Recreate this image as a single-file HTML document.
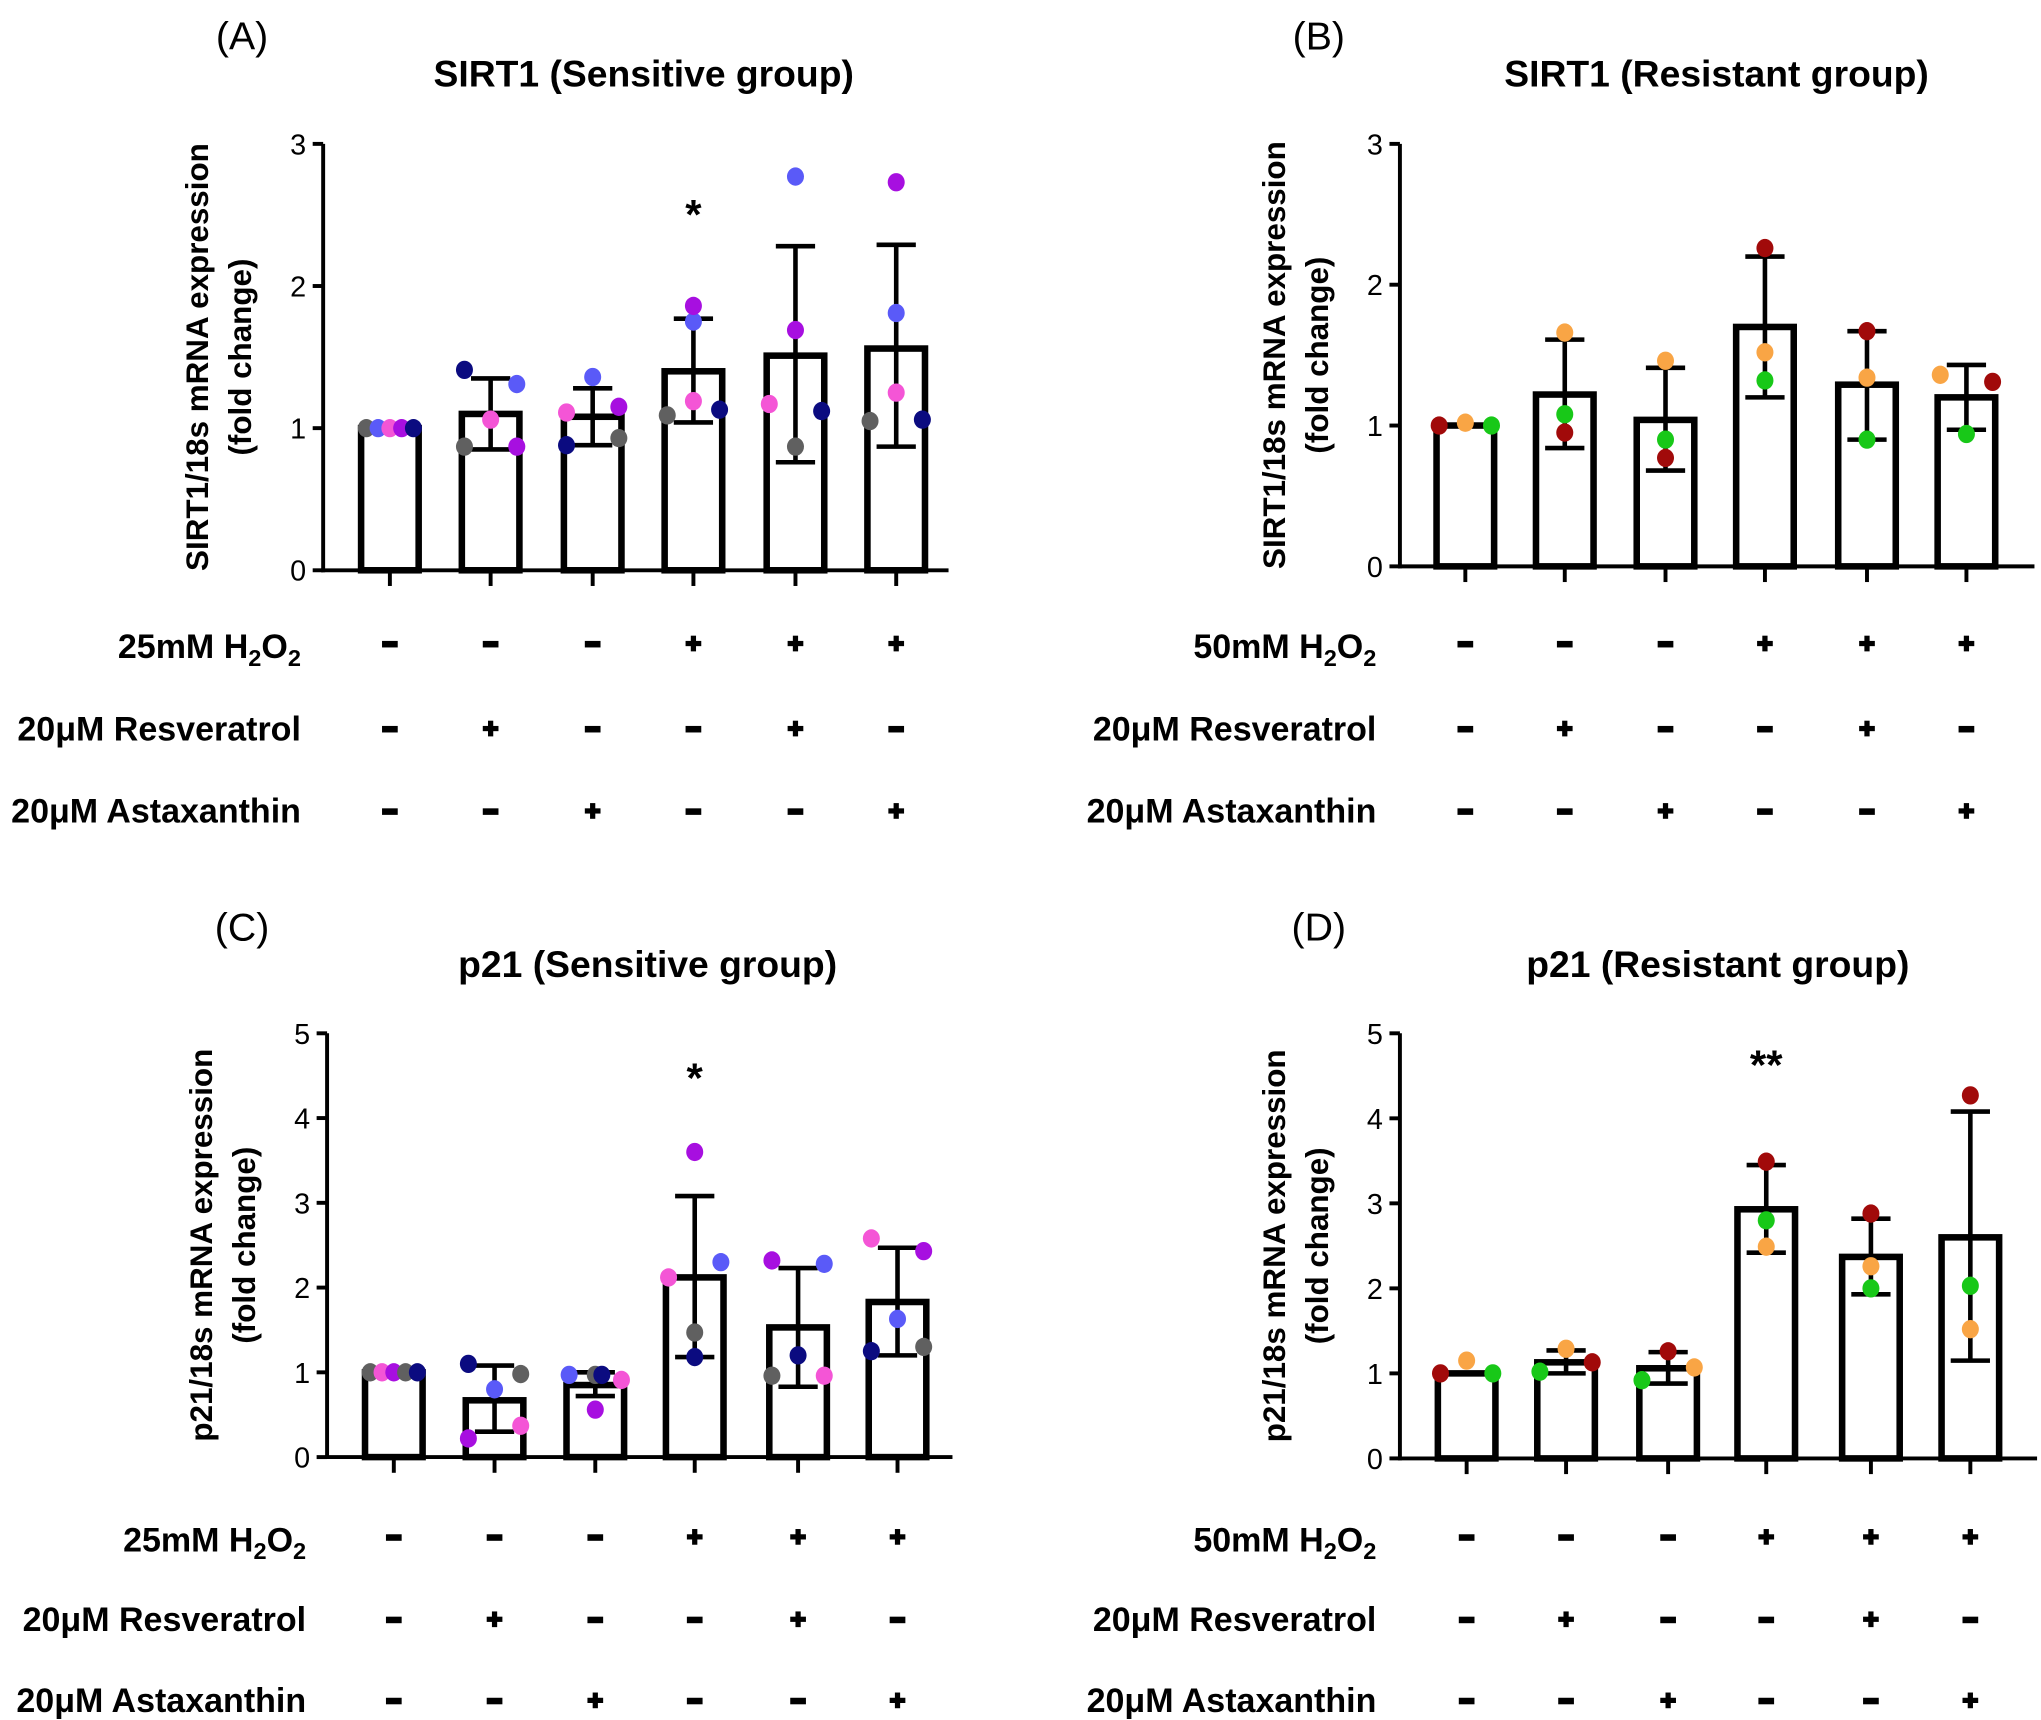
<!DOCTYPE html>
<html><head><meta charset="utf-8"><style>
html,body{margin:0;padding:0;background:#fff;}
svg{display:block;font-family:"Liberation Sans",Arial,sans-serif;}
</style></head><body>
<svg id="fig" width="2041" height="1720" viewBox="0 0 1560 1315" preserveAspectRatio="none" xmlns="http://www.w3.org/2000/svg"></svg>
<script>
// ---- data ----
const categories = ["g1","g2","g3","g4","g5","g6"];
const colS = {gray:"#606060",navy:"#0b0b80",blue:"#5a5af8",pink:"#f455d6",purple:"#a70fe0"};
const colR = {red:"#a10a0a",orange:"#f9a545",green:"#18c818"};
// Panel A
const meanA = [1.0,1.1,1.08,1.4,1.51,1.56];
const errLoA = [1.0,0.85,0.88,1.04,0.76,0.87];
const errHiA = [1.0,1.35,1.28,1.77,2.28,2.29];
const ptsA = [
 [["gray",1.0,-18],["blue",1.0,-9],["pink",1.0,0],["purple",1.0,9],["navy",1.0,18]],
 [["navy",1.41,-20],["gray",0.87,-20],["pink",1.06,0],["blue",1.31,20],["purple",0.87,20]],
 [["pink",1.11,-20],["navy",0.88,-20],["blue",1.36,0],["purple",1.15,20],["gray",0.93,20]],
 [["gray",1.09,-20],["pink",1.19,0],["blue",1.75,0],["purple",1.86,0],["navy",1.13,20]],
 [["pink",1.17,-20],["gray",0.87,0],["purple",1.69,0],["blue",2.77,0],["navy",1.12,20]],
 [["gray",1.05,-20],["pink",1.25,0],["blue",1.81,0],["purple",2.73,0],["navy",1.06,20]]];
// Panel B
const meanB = [1.0,1.22,1.04,1.70,1.29,1.2];
const errLoB = [1.0,0.84,0.68,1.2,0.9,0.97];
const errHiB = [1.0,1.61,1.41,2.2,1.67,1.43];
const ptsB = [
 [["red",1.0,-20],["orange",1.02,0],["green",1.0,20]],
 [["orange",1.66,0],["green",1.08,0],["red",0.95,0]],
 [["orange",1.46,0],["green",0.9,0],["red",0.77,0]],
 [["red",2.26,0],["orange",1.52,0],["green",1.32,0]],
 [["red",1.67,0],["orange",1.34,0],["green",0.9,0]],
 [["orange",1.36,-20],["green",0.94,0],["red",1.31,20]]];
// Panel C
const meanC = [1.0,0.67,0.85,2.12,1.53,1.83];
const errLoC = [1.0,0.3,0.72,1.18,0.83,1.2];
const errHiC = [1.0,1.08,1.0,3.08,2.23,2.47];
const ptsC = [
 [["gray",1.0,-18],["pink",1.0,-9],["purple",1.0,0],["gray",1.0,9],["navy",1.0,18]],
 [["navy",1.1,-20],["purple",0.22,-20],["blue",0.8,0],["pink",0.37,20],["gray",0.98,20]],
 [["blue",0.97,-20],["gray",0.97,0],["navy",0.97,5],["purple",0.56,0],["pink",0.91,20]],
 [["pink",2.12,-20],["purple",3.6,0],["gray",1.47,0],["navy",1.18,0],["blue",2.3,20]],
 [["purple",2.32,-20],["gray",0.96,-20],["navy",1.2,0],["pink",0.96,20],["blue",2.28,20]],
 [["pink",2.58,-20],["navy",1.25,-20],["blue",1.63,0],["purple",2.43,20],["gray",1.3,20]]];
// Panel D
const meanD = [1.0,1.13,1.06,2.93,2.37,2.6];
const errLoD = [1.0,1.0,0.88,2.42,1.93,1.15];
const errHiD = [1.0,1.27,1.25,3.45,2.82,4.08];
const ptsD = [
 [["red",1.0,-20],["orange",1.15,0],["green",1.0,20]],
 [["orange",1.29,0],["green",1.02,-20],["red",1.13,20]],
 [["green",0.92,-20],["red",1.26,0],["orange",1.07,20]],
 [["red",3.49,0],["green",2.8,0],["orange",2.49,0]],
 [["red",2.88,0],["orange",2.26,0],["green",2.0,0]],
 [["red",4.27,0],["green",2.03,0],["orange",1.52,0]]];
const rowH2O2 = ["-","-","-","+","+","+"];
const rowRes = ["-","+","-","-","+","-"];
const rowAst = ["-","-","+","-","-","+"];

const NS="http://www.w3.org/2000/svg";
const svg=document.getElementById('fig');
function mk(tag,attrs,parent){const e=document.createElementNS(NS,tag);for(const k in attrs)e.setAttribute(k,attrs[k]);(parent||svg).appendChild(e);return e;}

function panel(o){
  const g=mk('g',{});
  
  
  const y=v=>o.y0-(o.y0-o.yTop)*v/o.ymax;
  const x=i=>o.bx[i];
  let t=mk('text',{x:o.letterX,y:o.titleY-18,'font-size':30,'text-anchor':'middle'},g);t.textContent=o.letter;
  
  t=mk('text',{x:o.titleX,y:o.titleY+10,'font-size':28.5,'font-weight':'bold','text-anchor':'middle'},g);t.textContent=o.title;
  
  const yl=mk('text',{transform:`translate(${o.ax-62},${(o.y0+o.yTop)/2}) rotate(-90)`,'font-size':24,'font-weight':'bold','text-anchor':'middle'},g);
  
  let s1=mk('tspan',{x:0,y:-26},yl);s1.textContent=o.ylab;
  let s2=mk('tspan',{x:0,y:7},yl);s2.textContent="(fold change)";
  o.mean.forEach((m,i)=>{
    const r=mk('rect',{x:x(i)-22,y:y(m),width:44,height:o.y0-y(m),fill:'#fff',stroke:'#000','stroke-width':5},g);
    
  });
  const ya=mk('line',{x1:o.ax,y1:o.yTop,x2:o.ax,y2:o.y0+1.5,stroke:'#000','stroke-width':3},g);
  
  const xa=mk('line',{x1:o.ax-1.5,y1:o.y0,x2:o.axEnd,y2:o.y0,stroke:'#000','stroke-width':3},g);
  
  for(let v=0;v<=o.ymax;v++){
    mk('line',{x1:o.ax-8,y1:y(v),x2:o.ax,y2:y(v),stroke:'#000','stroke-width':3},g);
    const tl=mk('text',{x:o.ax-13,y:y(v)+8,'font-size':22,'text-anchor':'end'},g);tl.textContent=v;
    
  }
  categories.forEach((c,i)=>mk('line',{x1:x(i),y1:o.y0,x2:x(i),y2:o.y0+12,stroke:'#000','stroke-width':3},g));
  o.mean.forEach((m,i)=>{
    if(o.hi[i]===o.lo[i])return;
    const e=mk('g',{stroke:'#000','stroke-width':3.5},g);
    
    mk('line',{x1:x(i),y1:y(o.lo[i]),x2:x(i),y2:y(o.hi[i])},e);
    mk('line',{x1:x(i)-15,y1:y(o.hi[i]),x2:x(i)+15,y2:y(o.hi[i])},e);
    mk('line',{x1:x(i)-15,y1:y(o.lo[i]),x2:x(i)+15,y2:y(o.lo[i])},e);
  });
  o.pts.forEach((arr,i)=>arr.forEach(p=>{
    const d=mk('ellipse',{cx:x(i)+p[2],cy:y(p[1]),rx:6.5,ry:7,fill:o.cols[p[0]]},g);
    
  }));
  if(o.sig){const st=mk('text',{x:x(3),y:y(o.sigV)+16,'font-size':32,'font-weight':'bold','text-anchor':'middle'},g);st.textContent=o.sig;
    }
  const rows=[[o.h2o2,rowH2O2],["20\u03bcM Resveratrol",rowRes],["20\u03bcM Astaxanthin",rowAst]];
  rows.forEach((r,ri)=>{
    const ry=o.rowY[ri];
    const lab=mk('text',{x:o.labX,y:ry+9,'font-size':26,'font-weight':'bold','text-anchor':'end'},g);
    
    if(ri===0){
      let a=mk('tspan',{},lab);a.textContent=r[0]+"mM H";
      let b=mk('tspan',{'font-size':18,dy:6},lab);b.textContent="2";
      let c2=mk('tspan',{dy:-6},lab);c2.textContent="O";
      let d2=mk('tspan',{'font-size':18,dy:6},lab);d2.textContent="2";
    } else lab.textContent=r[0];
    r[1].forEach((s,i)=>{
      const cy=ry+(ri===0?-2:0);
      if(s==="-"){const m=mk('rect',{x:x(i)-6,y:cy-2,width:12,height:5,fill:'#000'},g);
        }
      else{const pg=mk('g',{fill:'#000'},g);
        mk('rect',{x:x(i)-6,y:cy-2,width:12,height:4},pg);mk('rect',{x:x(i)-2,y:cy-6,width:4,height:12},pg);}
    });
  });
}
panel({name:'panel-a',letter:'(A)',letterX:185,title:'SIRT1 (Sensitive group)',titleX:492,titleY:56,ax:247,axEnd:725,y0:436,yTop:110,ymax:3,
  bx:[298,375,453,530,608,685],mean:meanA,lo:errLoA,hi:errHiA,pts:ptsA,cols:colS,ylab:'SIRT1/18s mRNA expression',sig:'*',sigV:2.55,
  h2o2:'25',labX:230,rowY:[494,557,620]});
panel({name:'panel-b',letter:'(B)',letterX:1008,title:'SIRT1 (Resistant group)',titleX:1312,titleY:56,ax:1070,axEnd:1555,y0:433,yTop:110,ymax:3,
  bx:[1120,1196,1273,1349,1427,1503],mean:meanB,lo:errLoB,hi:errHiB,pts:ptsB,cols:colR,ylab:'SIRT1/18s mRNA expression',
  h2o2:'50',labX:1052,rowY:[494,557,620]});
panel({name:'panel-c',letter:'(C)',letterX:185,title:'p21 (Sensitive group)',titleX:495,titleY:737,ax:250,axEnd:728,y0:1114,yTop:790,ymax:5,
  bx:[301,378,455,531,610,686],mean:meanC,lo:errLoC,hi:errHiC,pts:ptsC,cols:colS,ylab:'p21/18s mRNA expression',sig:'*',sigV:4.55,
  h2o2:'25',labX:234,rowY:[1177,1238,1300]});
panel({name:'panel-d',letter:'(D)',letterX:1008,title:'p21 (Resistant group)',titleX:1313,titleY:737,ax:1070,axEnd:1557,y0:1115,yTop:790,ymax:5,
  bx:[1121,1197,1275,1350,1430,1506],mean:meanD,lo:errLoD,hi:errHiD,pts:ptsD,cols:colR,ylab:'p21/18s mRNA expression',sig:'**',sigV:4.7,
  h2o2:'50',labX:1052,rowY:[1177,1238,1300]});
</script>
</body></html>
